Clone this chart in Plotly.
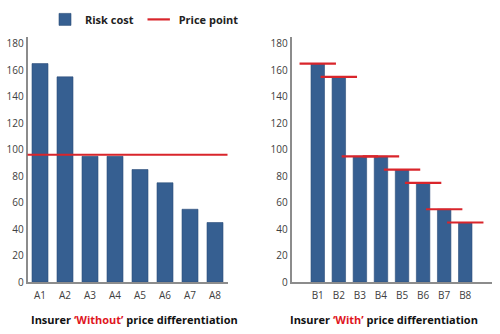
import plotly.graph_objects as go

cats_without = ["A1", "A2", "A3", "A4", "A5", "A6", "A7", "A8"]
cats_with = ["B1", "B2", "B3", "B4", "B5", "B6", "B7", "B8"]
risk_cost = [165, 155, 95, 95, 85, 75, 55, 45]
price_without = 96.25
price_with = [165, 155, 95, 95, 85, 75, 55, 45]
y_ticks = [0, 20, 40, 60, 80, 100, 120, 140, 160, 180]

BLUE = "#365f91"
RED = "#d9252b"
AXIS = "#8c8c8c"
TICKF = dict(family="Open Sans", size=10, color="#404040")

W, H = 500, 334
def px(x):
    return x / W
def py(y):
    return (H - y) / H

fig = go.Figure()
fig.add_trace(go.Bar(x=cats_without, y=risk_cost, name="Risk cost", marker=dict(color=BLUE, line=dict(color="#2b4d78", width=0.6)),
                     xaxis="x", yaxis="y", showlegend=True))
fig.add_trace(go.Bar(x=cats_with, y=risk_cost, name="Risk cost", marker=dict(color=BLUE, line=dict(color="#2b4d78", width=0.6)),
                     xaxis="x2", yaxis="y2", showlegend=False))
fig.add_trace(go.Scatter(x=cats_with, y=price_with, name="Price point", mode="markers",
                         marker=dict(symbol="line-ew", size=26, color=RED, line=dict(color=RED, width=2.2)),
                         xaxis="x2", yaxis="y2", showlegend=True, cliponaxis=False))

fig.add_shape(type="line", xref="x domain", yref="y", x0=0, x1=1, y0=price_without, y1=price_without,
              line=dict(color=RED, width=2))

ydom = [py(288), py(37)]
common_y = dict(range=[0, 185], tickvals=y_ticks, showgrid=False, zeroline=False, showline=True,
                linecolor=AXIS, linewidth=1.5, ticks="", tickfont=TICKF, domain=ydom)
common_x = dict(type="category", showgrid=False, zeroline=False, showline=True, linecolor=AXIS,
                linewidth=1.5, ticks="", tickfont=TICKF, ticklabelstandoff=3)

fig.update_layout(
    width=W, height=H,
    margin=dict(l=0, r=0, t=0, b=0),
    paper_bgcolor="white", plot_bgcolor="white",
    bargap=0.36,
    xaxis=dict(common_x, domain=[px(27.5), px(227.5)], anchor="y"),
    yaxis=dict(common_y, anchor="x"),
    xaxis2=dict(common_x, domain=[px(291.5), px(491.5)], anchor="y2"),
    yaxis2=dict(common_y, anchor="x2"),
    legend=dict(orientation="h", x=px(45), y=py(4), xanchor="left", yanchor="top",
                font=dict(family="Open Sans", size=11, color="#222222", weight="bold"),
                itemsizing="trace", bgcolor="rgba(0,0,0,0)", tracegroupgap=0),
    font=dict(family="Open Sans"),
)

for xc, word in [(134, "‘Without’"), (384, "‘With’")]:
    fig.add_annotation(x=px(xc), y=py(326), xref="paper", yref="paper", showarrow=False,
                       xanchor="center", yanchor="middle",
                       text="<b>Insurer <span style='color:#e0161e'>" + word + "</span> price differentiation</b>",
                       font=dict(family="Open Sans", size=11, color="#111111"))

fig.write_html("out.html")
